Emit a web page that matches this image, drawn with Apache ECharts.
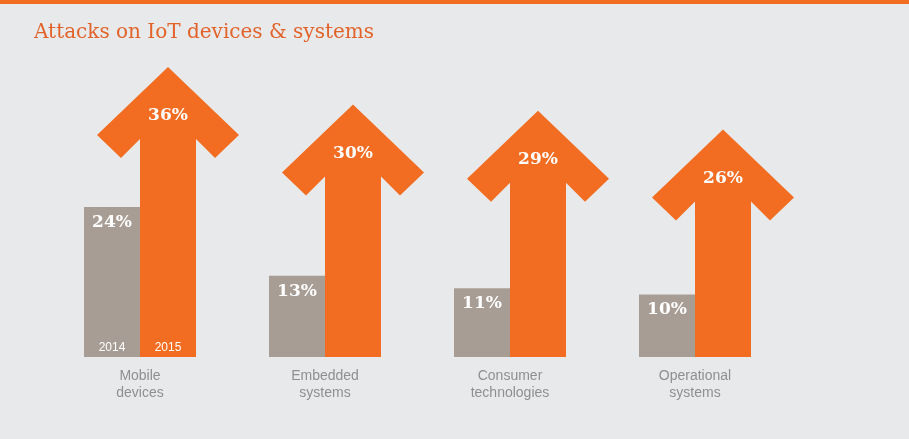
<!DOCTYPE html>
<html lang="en" style="height: 100%">
<head>
  <meta charset="utf-8">
  <title>Attacks on IoT devices & systems</title>
  <script type="text/javascript" src="https://fastly.jsdelivr.net/npm/echarts@6/dist/echarts.min.js"></script>
</head>
<body style="height: 100%; margin: 0; background: #e8e9ea">
  <div id="chart" style="width: 909px; height: 439px"></div>

  <script type="text/javascript">
    var categories = ['Mobile\ndevices', 'Embedded\nsystems', 'Consumer\ntechnologies', 'Operational\nsystems'];
    var values2014 = [24, 13, 11, 10];
    var values2015 = [36, 30, 29, 26];
    var years = ['2014', '2015'];

    var myChart = echarts.init(document.getElementById('chart'));
    var orange = '#f26d21';
    var grey = '#a89d94';
    var serif = '"DejaVu Serif", "Liberation Serif", serif';

    function renderArrow(params, api) {
      var p = api.coord([api.value(0), api.value(1)]);
      var cx = p[0] + 28;
      var tip = p[1] - 65;
      var base = api.coord([api.value(0), 0])[1];
      var pts = [
        [cx, tip],
        [cx + 71, tip + 68],
        [cx + 47, tip + 91],
        [cx + 28, tip + 72],
        [cx + 28, base],
        [cx - 28, base],
        [cx - 28, tip + 72],
        [cx - 47, tip + 91],
        [cx - 71, tip + 68]
      ];
      var children = [
        { type: 'polygon', shape: { points: pts }, style: { fill: orange } },
        {
          type: 'text',
          style: {
            text: values2015[params.dataIndex] + '%', x: cx, y: tip + 49,
            fill: '#fff', font: 'bold 17px ' + serif, align: 'center', verticalAlign: 'middle'
          }
        }
      ];
      if (params.dataIndex === 0) {
        children.push({
          type: 'text',
          style: {
            text: years[1], x: cx, y: base - 9, fill: '#fff',
            font: '12px "Liberation Sans", Arial, sans-serif', align: 'center', verticalAlign: 'middle'
          }
        });
      }
      return { type: 'group', children: children };
    }

    var option = {
      backgroundColor: '#e8e9ea',
      graphic: [
        { type: 'rect', shape: { x: 0, y: 0, width: 909, height: 4 }, style: { fill: orange } }
      ],
      title: {
        text: 'Attacks on IoT devices & systems',
        left: 29, top: 18,
        textStyle: { color: '#e2622a', fontFamily: serif, fontWeight: 'normal', fontSize: 20 }
      },
      grid: { left: 47.5, right: 121.5, top: 57, bottom: 82 },
      xAxis: {
        type: 'category',
        data: categories,
        axisLine: { show: false },
        axisTick: { show: false },
        axisLabel: {
          color: '#8f8f8f', fontSize: 14, lineHeight: 17, margin: 11,
          fontFamily: '"Liberation Sans", Arial, sans-serif'
        }
      },
      yAxis: { type: 'value', min: 0, max: 48, show: false, splitLine: { show: false } },
      series: [
        {
          name: years[0],
          type: 'bar',
          data: values2014,
          barWidth: 56,
          barGap: '0%',
          itemStyle: { color: grey },
          label: {
            show: true, position: 'insideTop', distance: 7,
            formatter: '{c}%', color: '#fff', fontFamily: serif, fontWeight: 'bold', fontSize: 17
          },
          z: 3
        },
        {
          name: years[1],
          type: 'bar',
          data: values2015.map(function () { return 0; }),
          barWidth: 56,
          itemStyle: { color: 'transparent' },
          silent: true
        },
        {
          name: 'arrow',
          type: 'custom',
          renderItem: renderArrow,
          data: values2015.map(function (v, i) { return [i, v]; }),
          encode: { x: 0, y: 1 },
          z: 2
        },
        {
          type: 'custom',
          renderItem: function (params, api) {
            if (params.dataIndex !== 0) return null;
            var p = api.coord([0, 0]);
            return {
              type: 'text',
              style: {
                text: years[0], x: p[0] - 28, y: p[1] - 9, fill: '#fff',
                font: '12px "Liberation Sans", Arial, sans-serif', align: 'center', verticalAlign: 'middle'
              }
            };
          },
          data: [[0, 0]],
          encode: { x: 0, y: 1 },
          z: 5
        }
      ]
    };

    myChart.setOption(option);
  </script>
</body>
</html>
